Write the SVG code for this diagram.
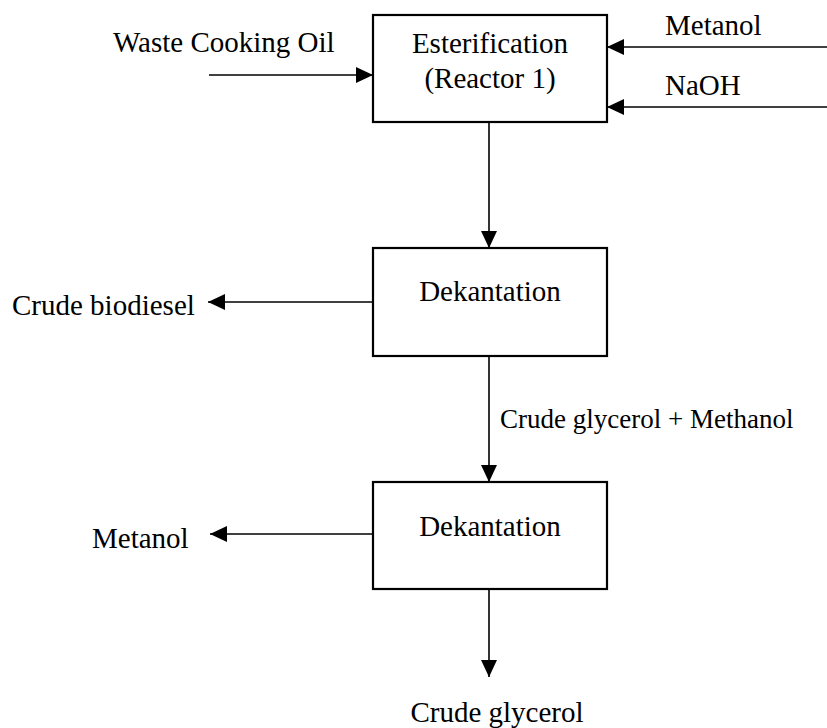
<svg xmlns="http://www.w3.org/2000/svg" width="827" height="728" viewBox="0 0 827 728">
<style>
text{font-family:"Liberation Serif","Times New Roman",serif;font-size:29px;fill:#000}
.box{fill:#fff;stroke:#000;stroke-width:2.2}
.ln{stroke:#000;stroke-width:1.6;fill:none;marker-end:url(#ah)}
.c{text-anchor:middle}
</style>
<defs>
<marker id="ah" markerUnits="userSpaceOnUse" markerWidth="17" markerHeight="16" refX="17" refY="8" orient="auto">
<path d="M0,0 L17,8 L0,16 z" fill="#000"/>
</marker>
</defs>
<g id="connectors">
<line class="ln" x1="209" y1="75" x2="373" y2="75"/>
<line class="ln" x1="827" y1="47" x2="607" y2="47"/>
<line class="ln" x1="827" y1="107" x2="607" y2="107"/>
<line class="ln" x1="489" y1="122" x2="489" y2="248"/>
<line class="ln" x1="373" y1="302" x2="208" y2="302"/>
<line class="ln" x1="489" y1="356" x2="489" y2="482"/>
<line class="ln" x1="373" y1="534" x2="210" y2="534"/>
<line class="ln" x1="489" y1="589" x2="489" y2="677"/>
</g>
<g id="node-esterification">
<rect class="box" x="373" y="15" width="234" height="107"/>
<text class="c" x="490" y="53">Esterification</text>
<text class="c" x="490" y="88">(Reactor 1)</text>
</g>
<g id="node-dekantation1">
<rect class="box" x="373" y="248" width="234" height="108"/>
<text class="c" x="490" y="301">Dekantation</text>
</g>
<g id="node-dekantation2">
<rect class="box" x="373" y="482" width="234" height="107"/>
<text class="c" x="490" y="536">Dekantation</text>
</g>
<g id="labels">
<text x="113" y="52">Waste Cooking Oil</text>
<text x="665" y="35">Metanol</text>
<text x="665" y="95">NaOH</text>
<text x="12" y="315">Crude biodiesel</text>
<text x="500" y="428" style="font-size:27px">Crude glycerol + Methanol</text>
<text x="92" y="548">Metanol</text>
<text class="c" x="497" y="722">Crude glycerol</text>
</g>
</svg>
